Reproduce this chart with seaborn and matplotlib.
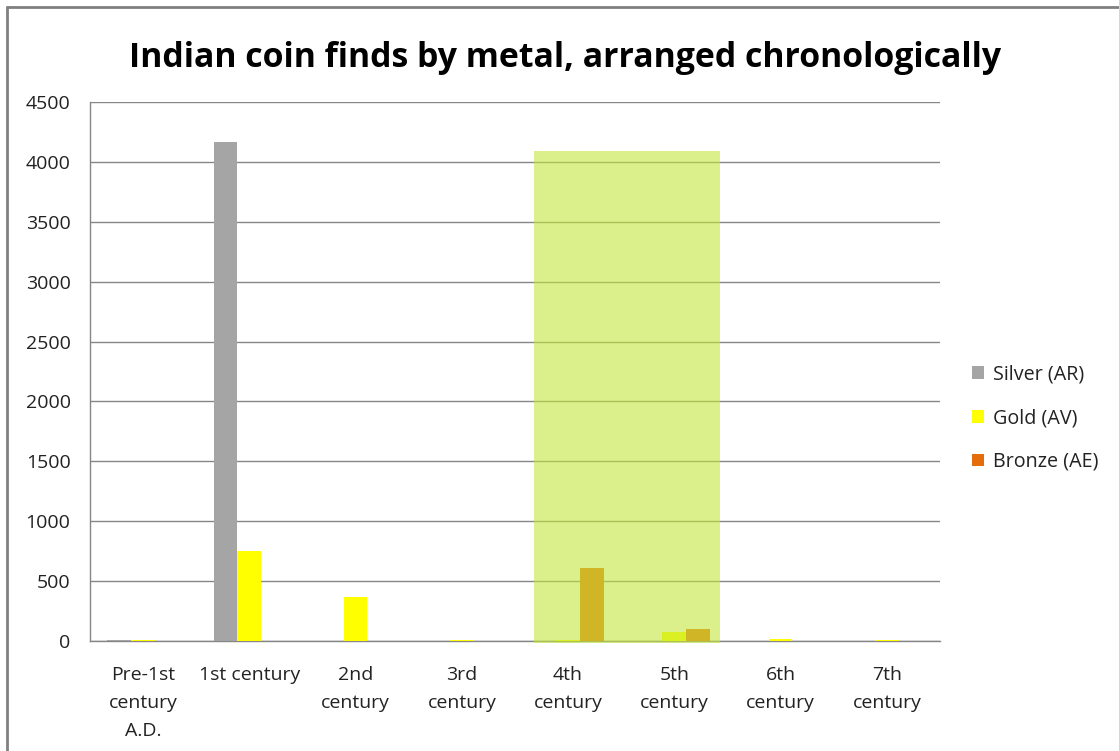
import matplotlib
matplotlib.use("Agg")
import matplotlib.pyplot as plt
from matplotlib.patches import Rectangle, Patch
from matplotlib.lines import Line2D
import seaborn as sns
import pandas as pd

categories = ["Pre-1st\ncentury\nA.D.", "1st century", "2nd\ncentury", "3rd\ncentury",
              "4th\ncentury", "5th\ncentury", "6th\ncentury", "7th\ncentury"]
series_names = ["Silver (AR)", "Gold (AV)", "Bronze (AE)"]
silver = [6, 4170, 0, 0, 0, 0, 0, 0]
gold = [9, 755, 370, 8, 5, 78, 15, 8]
bronze = [0, 0, 0, 0, 607, 98, 0, 0]
y_ticks = [0, 500, 1000, 1500, 2000, 2500, 3000, 3500, 4000, 4500]
highlight_span = (3.68, 5.43)
highlight_top = 4090

colors = ["#a5a5a5", "#ffff00", "#e46c0a"]

rows = []
for name, vals in zip(series_names, [silver, gold, bronze]):
    for c, v in zip(categories, vals):
        rows.append({"cat": c, "metal": name, "count": v})
df = pd.DataFrame(rows)

sns.set_theme(style="white")
plt.rcParams['font.family'] = ['Open Sans', 'DejaVu Sans']

fig = plt.figure(figsize=(11.19, 7.51), dpi=100)
ax = fig.add_axes([0.0804, 0.1465, 0.7596, 0.7175])

sns.barplot(data=df, x="cat", y="count", hue="metal", order=categories,
            hue_order=series_names, palette=colors, width=0.67, gap=0,
            saturation=1, ax=ax, legend=False, zorder=3, linewidth=0)

ax.set_ylim(0, 4500)
ax.set_xlim(-0.5, len(categories) - 0.5)
ax.set_yticks(y_ticks)
ax.set_yticklabels([str(t) for t in y_ticks], fontsize=14, color="#222222")
ax.set_xticks(range(len(categories)))
ax.set_xticklabels(categories, fontsize=14, color="#222222", linespacing=1.7)
ax.tick_params(axis="x", which="major", length=0, pad=18)
ax.tick_params(axis="y", which="major", length=7, width=1, color="#868686",
               direction="out", pad=7)
ax.set_xticks([i - 0.5 for i in range(len(categories) + 1)], minor=True)
ax.tick_params(axis="x", which="minor", length=6, width=1, color="#868686", direction="out")
ax.set_xlabel("")
ax.set_ylabel("")

ax.yaxis.grid(True, color="#868686", linewidth=1)
ax.set_axisbelow(True)
for side in ["top", "right"]:
    ax.spines[side].set_visible(False)
for side in ["left", "bottom"]:
    ax.spines[side].set_color("#868686")
    ax.spines[side].set_linewidth(1)

ax.add_patch(Rectangle((highlight_span[0], -15), highlight_span[1] - highlight_span[0],
                       highlight_top + 15, facecolor=(196/255, 230/255, 60/255),
                       alpha=0.6, edgecolor="none", zorder=5, clip_on=False))

handles = [Patch(facecolor=c, edgecolor="none") for c in colors]
leg = fig.legend(handles, series_names, loc="center left", bbox_to_anchor=(0.853, 0.443),
                 frameon=False, fontsize=14.2, handlelength=0.6, handleheight=0.6,
                 handletextpad=0.45, labelspacing=1.2)
for t in leg.get_texts():
    t.set_color("#222222")

fig.suptitle("Indian coin finds by metal, arranged chronologically", x=0.505, y=0.946,
             fontsize=24.4, fontweight="bold", color="#000000")

fig.lines.append(Line2D([0.0067, 0.0067], [0, 0.991], transform=fig.transFigure,
                        color="#808080", linewidth=2))
fig.lines.append(Line2D([0.0067, 1.0], [0.991, 0.991], transform=fig.transFigure,
                        color="#808080", linewidth=2))

fig.savefig("out.png", dpi=100)
